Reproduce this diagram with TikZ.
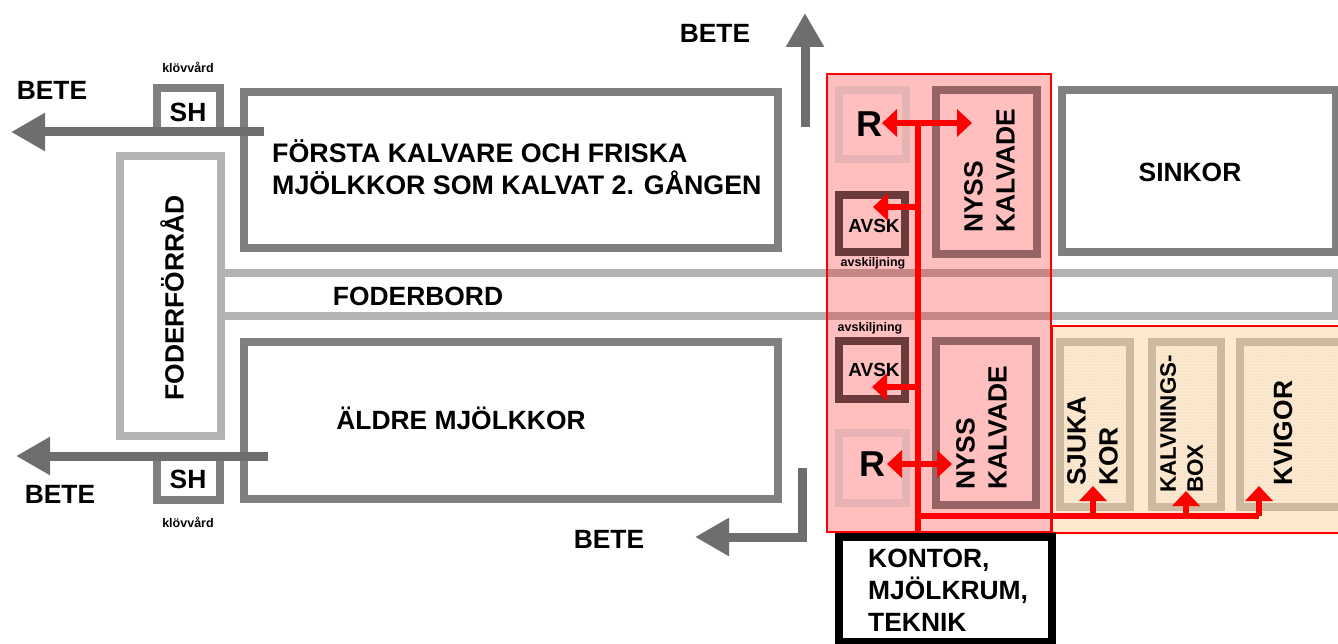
\documentclass[tikz,border=0pt]{standalone}
\usepackage{fontspec}
\setmainfont{Liberation Sans}
\usepackage{tikz}
\usetikzlibrary{arrows.meta, positioning, patterns}

\definecolor{wallgray}{HTML}{7F7F7F}
\definecolor{exitgray}{HTML}{6E6E6E}
\definecolor{feedgray}{HTML}{B3B3B3}
\definecolor{newwall}{HTML}{966464}
\definecolor{avskwall}{HTML}{6B3A3A}
\definecolor{rwall}{HTML}{E6B4B4}
\definecolor{sandwall}{HTML}{CDB9A0}
\definecolor{sandfill}{HTML}{FDE9D0}
\definecolor{sanddot}{HTML}{D8C4AA}

\begin{document}
\begin{tikzpicture}[
    x=1pt, y=-1pt,
    lbl/.style={font=\fontsize{26.4}{32}\selectfont\bfseries, align=left, inner sep=0pt},
    small/.style={font=\fontsize{12.5}{14}\selectfont\bfseries, inner sep=0pt},
    avsktxt/.style={font=\fontsize{19}{22}\selectfont\bfseries, inner sep=0pt},
    rtxt/.style={font=\fontsize{36}{40}\selectfont\bfseries, inner sep=0pt},
    room/.style={rectangle, draw=#1, line width=8pt, inner sep=0pt},
    room/.default=wallgray,
    pen/.style={rectangle, draw=sandwall, line width=8pt, fill=sandfill, inner sep=0pt,
      postaction={pattern=dots, pattern color=sanddot}},
    zone/.style={rectangle, draw=red, line width=2pt, inner sep=0pt},
    graze/.style={line width=9pt, draw=exitgray, -{Triangle[length=34pt,width=36pt]}},
    flow/.style={line width=6.5pt, draw=red, -{Triangle[length=15pt,width=27pt]}},
    flowboth/.style={line width=6.5pt, draw=red, {Triangle[length=15pt,width=27pt]}-{Triangle[length=15pt,width=27pt]}}
  ]
    \useasboundingbox (0,0) rectangle (1338,644);
    \fill[white] (0,0) rectangle (1338,644);

    % feed aisle
    \draw[feedgray, line width=8pt] (224,273) -- (1336,273) -- (1336,316) -- (224,316);
    \node[lbl] (aisle) at (418,296) {FODERBORD};
    \node[room=feedgray, minimum width=101pt, minimum height=280pt] (store) at (170,296) {};
    \node[lbl, rotate=90] (storetxt) at (172,298) {FODERFÖRRÅD};

    % barns
    \node[room, minimum width=534pt, minimum height=156pt] (barn1) at (511,170) {};
    \node[room, minimum width=534pt, minimum height=157pt] (barn2) at (511,420) {};
    \node[lbl, anchor=west, font=\fontsize{26.8}{32}\selectfont\bfseries] (barn1txt) at (272,167) {FÖRSTA KALVARE OCH FRISKA\\MJÖLKKOR SOM KALVAT 2. GÅNGEN};
    \node[lbl] (barn2txt) at (461,418) {ÄLDRE MJÖLKKOR};
    \node[room, minimum width=274pt, minimum height=162pt] (dry) at (1199,171) {};
    \node[lbl] (drytxt) at (1190,172) {SINKOR};

    % hoof care
    \node[room, minimum width=63pt, minimum height=44pt] (sh1) at (188.5,110) {};
    \node[room, minimum width=63pt, minimum height=44pt] (sh2) at (188.5,478) {};
    \node[lbl] at (188,112) {SH};
    \node[lbl] at (188,479) {SH};
    \node[small] at (188,67) {klövvård};
    \node[small] at (188,522) {klövvård};

    % pasture exits
    \coordinate (out1) at (264,132);
    \coordinate (tip1) at (11,132);
    \coordinate (out2) at (268,456);
    \coordinate (tip2) at (16,456);
    \coordinate (out3) at (805,127);
    \coordinate (tip3) at (805,13);
    \coordinate (out4) at (802,468);
    \coordinate (tip4) at (695,537);
    \draw[graze] (out1) -- (tip1);
    \draw[graze] (out2) -- (tip2);
    \draw[graze] (out3) -- (tip3);
    \draw[graze] (out4) |- (tip4);
    \node[lbl] at (52,90) {BETE};
    \node[lbl] at (60,494) {BETE};
    \node[lbl] at (715,33) {BETE};
    \node[lbl] at (609,539) {BETE};

    % red zones
    \node[zone, fill=red, fill opacity=.25, minimum width=224pt, minimum height=458pt] (calving) at (939,303) {};
    \node[zone, fill=sandfill, minimum width=290pt, minimum height=207pt, anchor=north west] (young) at (1051,325) {};

    \node[room=rwall, minimum width=67pt, minimum height=69pt] (r1) at (872.5,124.5) {};
    \node[room=rwall, minimum width=67pt, minimum height=70pt] (r2) at (872.5,468) {};
    \node[room=avskwall, minimum width=66pt, minimum height=57pt] (avsk1) at (872,223.5) {};
    \node[room=avskwall, minimum width=66pt, minimum height=58pt] (avsk2) at (872,370) {};
    \node[room=newwall, minimum width=101pt, minimum height=164pt] (new1) at (986.5,172) {};
    \node[room=newwall, minimum width=100pt, minimum height=164pt] (new2) at (986,423) {};

    \node[pen, minimum width=70pt, minimum height=165pt] (sick) at (1095,424) {};
    \node[pen, minimum width=69pt, minimum height=165pt] (box) at (1186.5,424) {};
    \node[pen, minimum width=106pt, minimum height=165pt] (heif) at (1293,424) {};
    \useasboundingbox (0,0) rectangle (1338,644);

    \node[rtxt] (r1txt) at (869,124) {R};
    \node[rtxt] (r2txt) at (872,464) {R};
    \node[avsktxt] at (874,226) {AVSK};
    \node[avsktxt] at (874,370) {AVSK};
    \node[small] at (873,263) {avskiljning};
    \node[small] at (870,328) {avskiljning};

    \node[lbl, rotate=90, anchor=north west] (new1txt) at (964,233) {NYSS\\KALVADE};
    \node[lbl, rotate=90, anchor=north west] (new2txt) at (956,490) {NYSS\\KALVADE};
    \node[lbl, rotate=90, anchor=north west] (sicktxt) at (1067,486) {SJUKA\\KOR};
    \node[lbl, rotate=90, anchor=north west, font=\fontsize{22.4}{27}\selectfont\bfseries] (boxtxt) at (1160,493) {KALVNINGS-\\BOX};
    \node[lbl, rotate=90] (heiftxt) at (1283,433) {KVIGOR};

    % office
    \node[room=black, minimum width=213pt, minimum height=105pt] (office) at (945.5,589) {};
    \node[lbl, anchor=west] (officetxt) at (868,590) {KONTOR,\\MJÖLKRUM,\\TEKNIK};

    % routes
    \coordinate (trunktop) at (918,123);
    \coordinate (trunkend) at (918,532);
    \coordinate (trunkin) at (918,516);
    \coordinate (lane) at (1259,516);
    \draw[red, line width=5.5pt] (trunktop) -- (trunkend);
    \draw[red, line width=6.5pt] (trunkin) -- (lane);
    \coordinate (tipr1) at (882,123);
    \coordinate (tipn1) at (972,123);
    \coordinate (tipr2) at (887,464);
    \coordinate (tipn2) at (952,464);
    \draw[flowboth] (tipr1) -- (tipn1);
    \draw[flowboth] (tipr2) -- (tipn2);
    \coordinate (ta1) at (918,207);
    \coordinate (tipa1) at (873,207);
    \coordinate (ta2) at (918,387);
    \coordinate (tipa2) at (872,387);
    \draw[flow] (ta1) -- (tipa1);
    \draw[flow] (ta2) -- (tipa2);
    \coordinate (l1) at (1093,516);
    \coordinate (l2) at (1186,516);
    \coordinate (tips) at (1093,486);
    \coordinate (tipb) at (1186,491);
    \coordinate (tipk) at (1259,486);
    \draw[flow] (l1) -- (tips);
    \draw[flow] (l2) -- (tipb);
    \draw[flow] (lane) -- (tipk);
\end{tikzpicture}
\end{document}
